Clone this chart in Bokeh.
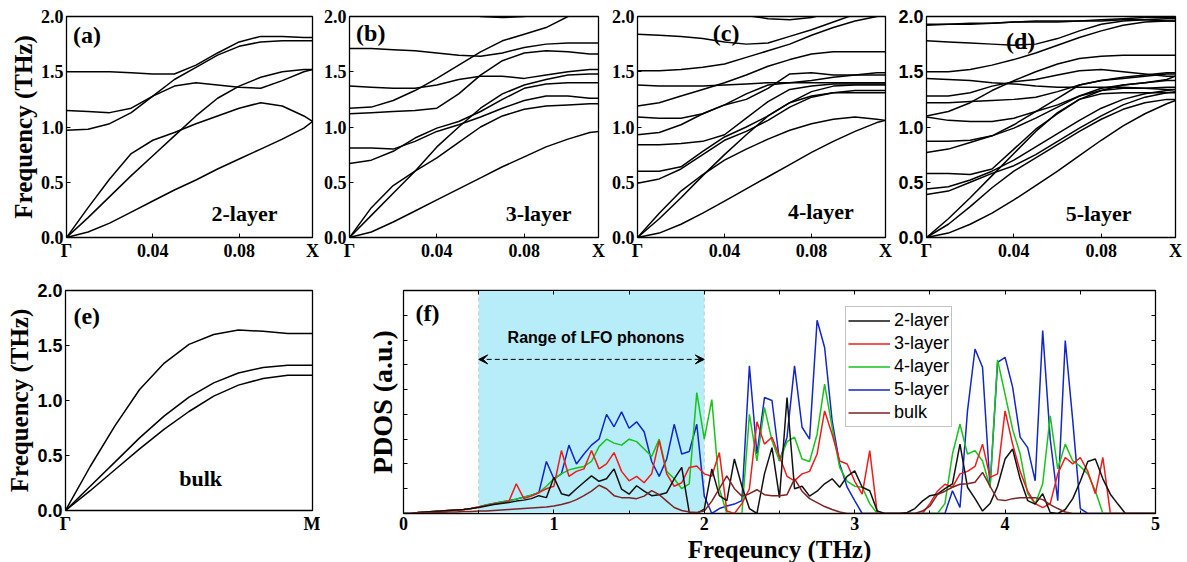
from bokeh.plotting import figure
from bokeh.layouts import row, column
from bokeh.models import (FixedTicker, LinearAxis, BoxAnnotation, Span, Arrow, VeeHead,
                          Legend, LegendItem, Range1d, NumeralTickFormatter)
from bokeh.core.properties import value
from bokeh.embed import file_html
from bokeh.resources import INLINE

SERIF = "Liberation Serif"
SANS = "Liberation Sans"

# ---------------- dispersion data (frequency in THz) ----------------
K = [0.0, 0.01, 0.02, 0.03, 0.04, 0.05, 0.06, 0.07, 0.08, 0.09, 0.10, 0.11, 0.114]
K_TICKS = [0.0, 0.04, 0.08, 0.114]
K_TICK_LABELS = ["Γ", "0.04", "0.08", "X"]
F_TICKS = [0.0, 0.5, 1.0, 1.5, 2.0]

BANDS_2L = [
    [0, 0.05, 0.13, 0.23, 0.33, 0.43, 0.52, 0.62, 0.71, 0.80, 0.89, 0.99, 1.05],
    [0, 0.27, 0.53, 0.76, 0.88, 0.95, 1.03, 1.10, 1.17, 1.22, 1.19, 1.10, 1.05],
    [0, 0.18, 0.37, 0.56, 0.74, 0.92, 1.10, 1.26, 1.37, 1.45, 1.50, 1.52, 1.52],
    [0.97, 0.98, 1.03, 1.13, 1.28, 1.43, 1.54, 1.65, 1.73, 1.77, 1.78, 1.78, 1.78],
    [1.15, 1.14, 1.13, 1.17, 1.28, 1.37, 1.40, 1.38, 1.36, 1.35, 1.42, 1.50, 1.52],
    [1.50, 1.50, 1.50, 1.49, 1.48, 1.48, 1.56, 1.67, 1.77, 1.82, 1.82, 1.81, 1.81],
]
BANDS_3L = [
    [0, 0.05, 0.14, 0.24, 0.34, 0.44, 0.54, 0.64, 0.73, 0.82, 0.89, 0.95, 0.96],
    [0, 0.27, 0.47, 0.60, 0.72, 0.86, 1.00, 1.10, 1.16, 1.19, 1.20, 1.21, 1.21],
    [0, 0.20, 0.40, 0.60, 0.82, 1.00, 1.17, 1.30, 1.38, 1.43, 1.47, 1.48, 1.48],
    [0.67, 0.70, 0.78, 0.90, 0.99, 1.05, 1.14, 1.25, 1.35, 1.39, 1.40, 1.40, 1.40],
    [0.81, 0.81, 0.80, 0.87, 0.96, 1.02, 1.09, 1.17, 1.24, 1.28, 1.28, 1.26, 1.26],
    [1.12, 1.13, 1.14, 1.15, 1.17, 1.30, 1.47, 1.60, 1.67, 1.69, 1.68, 1.66, 1.66],
    [1.17, 1.18, 1.24, 1.33, 1.44, 1.56, 1.68, 1.78, 1.84, 1.90, 2.00, 2.10, 2.12],
    [1.37, 1.36, 1.35, 1.35, 1.38, 1.43, 1.46, 1.46, 1.44, 1.47, 1.50, 1.52, 1.52],
    [1.71, 1.71, 1.70, 1.69, 1.67, 1.65, 1.64, 1.67, 1.72, 1.75, 1.76, 1.76, 1.76],
    [2.40, 2.30, 2.22, 2.15, 2.09, 2.04, 2.00, 1.99, 2.00, 2.04, 2.10, 2.15, 2.17],
]
BANDS_4L = [
    [0, 0.04, 0.12, 0.22, 0.33, 0.44, 0.55, 0.66, 0.77, 0.87, 0.96, 1.04, 1.06],
    [0, 0.22, 0.42, 0.57, 0.70, 0.80, 0.89, 0.97, 1.03, 1.07, 1.09, 1.07, 1.06],
    [0, 0.17, 0.36, 0.56, 0.75, 0.93, 1.10, 1.22, 1.28, 1.31, 1.31, 1.31, 1.31],
    [0.49, 0.53, 0.62, 0.75, 0.88, 0.96, 1.06, 1.18, 1.27, 1.31, 1.33, 1.33, 1.33],
    [0.60, 0.60, 0.64, 0.78, 0.91, 1.00, 1.10, 1.22, 1.32, 1.37, 1.38, 1.38, 1.38],
    [0.84, 0.84, 0.85, 0.87, 0.93, 1.08, 1.23, 1.34, 1.37, 1.39, 1.39, 1.39, 1.39],
    [0.93, 0.95, 1.02, 1.12, 1.20, 1.25, 1.35, 1.48, 1.49, 1.47, 1.47, 1.47, 1.47],
    [1.09, 1.08, 1.08, 1.12, 1.20, 1.30, 1.38, 1.40, 1.42, 1.45, 1.47, 1.49, 1.49],
    [1.19, 1.22, 1.28, 1.34, 1.40, 1.47, 1.55, 1.61, 1.66, 1.68, 1.68, 1.68, 1.68],
    [1.38, 1.37, 1.37, 1.37, 1.38, 1.39, 1.40, 1.40, 1.40, 1.40, 1.40, 1.40, 1.40],
    [1.51, 1.51, 1.52, 1.54, 1.57, 1.63, 1.69, 1.75, 1.83, 1.90, 1.96, 2.00, 2.02],
    [1.84, 1.83, 1.82, 1.80, 1.77, 1.75, 1.76, 1.82, 1.88, 1.95, 2.02, 2.08, 2.10],
    [2.40, 2.30, 2.20, 2.12, 2.06, 2.01, 1.98, 1.97, 1.99, 2.04, 2.10, 2.15, 2.17],
]
BANDS_5L = [
    [0, 0.04, 0.12, 0.22, 0.34, 0.47, 0.60, 0.74, 0.88, 1.01, 1.12, 1.21, 1.24],
    [0, 0.12, 0.28, 0.45, 0.60, 0.72, 0.84, 0.96, 1.07, 1.16, 1.22, 1.25, 1.25],
    [0, 0.17, 0.36, 0.56, 0.76, 0.96, 1.13, 1.25, 1.30, 1.31, 1.31, 1.31, 1.31],
    [0.39, 0.42, 0.50, 0.58, 0.65, 0.75, 0.87, 0.99, 1.10, 1.20, 1.27, 1.31, 1.32],
    [0.44, 0.46, 0.52, 0.60, 0.70, 0.82, 0.94, 1.06, 1.17, 1.25, 1.30, 1.33, 1.34],
    [0.58, 0.58, 0.57, 0.62, 0.80, 0.98, 1.12, 1.25, 1.33, 1.38, 1.40, 1.42, 1.42],
    [0.77, 0.80, 0.86, 0.92, 0.99, 1.08, 1.18, 1.28, 1.35, 1.38, 1.40, 1.43, 1.46],
    [0.87, 0.87, 0.88, 0.92, 1.02, 1.14, 1.26, 1.38, 1.42, 1.44, 1.46, 1.48, 1.48],
    [1.09, 1.06, 1.05, 1.05, 1.08, 1.14, 1.20, 1.28, 1.33, 1.35, 1.35, 1.36, 1.36],
    [1.10, 1.14, 1.22, 1.33, 1.42, 1.50, 1.57, 1.62, 1.64, 1.65, 1.65, 1.65, 1.65],
    [1.22, 1.22, 1.23, 1.24, 1.25, 1.27, 1.32, 1.38, 1.42, 1.45, 1.47, 1.49, 1.49],
    [1.28, 1.28, 1.31, 1.37, 1.41, 1.43, 1.47, 1.51, 1.52, 1.50, 1.48, 1.46, 1.46],
    [1.44, 1.43, 1.42, 1.40, 1.39, 1.37, 1.36, 1.36, 1.36, 1.36, 1.35, 1.34, 1.34],
    [1.50, 1.50, 1.52, 1.56, 1.61, 1.67, 1.74, 1.81, 1.87, 1.92, 1.95, 1.96, 1.96],
    [1.78, 1.77, 1.76, 1.75, 1.74, 1.75, 1.80, 1.87, 1.93, 1.96, 1.97, 1.98, 1.98],
    [1.92, 1.93, 1.93, 1.94, 1.95, 1.95, 1.95, 1.96, 1.97, 1.98, 1.99, 1.99, 1.99],
    [1.93, 1.93, 1.94, 1.94, 1.95, 1.96, 1.96, 1.96, 1.96, 1.97, 1.97, 1.96, 1.96],
]

Q_BULK = [0.0, 0.1, 0.2, 0.3, 0.4, 0.5, 0.6, 0.7, 0.8, 0.9, 1.0]
Q_TICKS = [0.0, 1.0]
Q_TICK_LABELS = ["Γ", "M"]
BANDS_BULK = [
    [0, 0.40, 0.77, 1.10, 1.34, 1.51, 1.60, 1.64, 1.63, 1.61, 1.61],
    [0, 0.22, 0.44, 0.66, 0.86, 1.03, 1.16, 1.25, 1.30, 1.32, 1.32],
    [0, 0.18, 0.37, 0.56, 0.74, 0.90, 1.04, 1.14, 1.20, 1.23, 1.23],
]

# ---------------- PDOS data (a.u.), frequency grid 0..5 THz step 0.05 ----------------
PDOS_FREQ = [round(i * 0.05, 2) for i in range(101)]
PDOS_2L = [0, 0, 0.02, 0.03, 0.04, 0.05, 0.06, 0.07, 0.08, 0.10,
           0.12, 0.15, 0.18, 0.20, 0.22, 0.25, 0.27, 0.30, 0.36, 0.32,
           0.73, 0.40, 0.36, 0.50, 0.63, 0.76, 0.65, 0.70, 0.90, 0.49,
           0.39, 0.56, 0.45, 0.36, 0.38, 0.42, 0.70, 0.93, 0.02, 0.00,
           0.09, 0.90, 0.36, 0.26, 1.10, 0.55, 0.10, 0.00, 0.80, 1.33,
           0.32, 2.34, 0.50, 0.55, 0.35, 0.45, 0.60, 0.70, 0.53, 0.75,
           0.86, 0.53, 0.46, 0.05, 0, 0, 0, 0.02, 0.10, 0.25,
           0.36, 0.39, 0.50, 0.60, 1.40, 0.53, 0.30, 0.05, 0.20, 0.55,
           1.10, 1.30, 0.70, 0.26, 0.19, 0.40, 0.02, 0, 0.08, 0.30,
           0.65, 1.05, 1.10, 0.70, 0.39, 0.19, 0, 0, 0, 0, 0]
PDOS_3L = [0, 0, 0.02, 0.03, 0.04, 0.05, 0.06, 0.07, 0.08, 0.10,
           0.13, 0.16, 0.19, 0.21, 0.24, 0.60, 0.30, 0.35, 0.42, 0.50,
           0.55, 1.27, 0.75, 0.85, 0.90, 1.27, 0.90, 1.00, 1.23, 0.85,
           0.66, 0.75, 0.62, 0.80, 1.47, 0.80, 0.55, 0.62, 0.93, 0.96,
           0.80, 0.75, 1.23, 0.05, 0.00, 0.20, 0.50, 1.85, 1.40, 1.54,
           1.15, 0.75, 0.66, 0.80, 0.85, 1.20, 2.07, 1.60, 1.06, 1.00,
           0.65, 0.39, 1.27, 0, 0, 0, 0, 0, 0, 0,
           0.20, 0.45, 0.59, 0.53, 0.80, 0.85, 0.95, 1.40, 0.73, 0.80,
           2.07, 1.40, 0.85, 0.45, 0.20, 0.12, 0.20, 0.80, 1.13, 1.00,
           1.13, 0.85, 0.40, 1.13, 0, 0, 0, 0, 0, 0, 0]
PDOS_4L = [0, 0, 0.02, 0.03, 0.04, 0.05, 0.06, 0.07, 0.08, 0.10,
           0.13, 0.17, 0.20, 0.23, 0.26, 0.29, 0.33, 0.37, 0.42, 0.55,
           0.70, 0.80, 0.88, 0.92, 0.95, 1.05, 1.35, 1.50, 1.42, 1.38,
           1.50, 1.45, 1.30, 1.15, 1.50, 0.85, 0.70, 0.50, 0.60, 2.44,
           1.50, 2.30, 0.50, 0, 0, 0, 2.00, 1.06, 2.14, 1.47,
           1.06, 1.45, 1.54, 1.10, 1.05, 1.60, 2.61, 1.74, 0.93, 0.65,
           0.55, 0.53, 0.20, 0, 0, 0, 0, 0, 0, 0,
           0, 0, 0.20, 1.20, 1.80, 1.20, 1.27, 1.06, 0.53, 3.10,
           2.40, 1.70, 1.20, 0.40, 0.19, 0.60, 1.97, 0.90, 1.40, 1.06,
           0.95, 0.80, 0.46, 0, 0, 0, 0, 0, 0, 0, 0]
PDOS_5L = [0, 0, 0.02, 0.03, 0.04, 0.05, 0.06, 0.07, 0.08, 0.10,
           0.13, 0.17, 0.20, 0.23, 0.26, 0.29, 0.33, 0.37, 0.42, 1.05,
           0.70, 0.80, 1.38, 1.00, 1.20, 1.38, 1.50, 2.00, 1.75, 2.05,
           1.72, 1.85, 1.65, 1.05, 0.75, 1.10, 1.80, 1.20, 1.25, 1.80,
           0.35, 0, 0.10, 0.15, 0.19, 0.26, 2.98, 1.20, 2.34, 2.28,
           1.06, 1.54, 2.98, 1.74, 1.50, 3.90, 3.35, 1.87, 1.00, 0.53,
           0.26, 0, 0, 0, 0, 0, 0, 0, 0, 0,
           0, 0, 0, 0.46, 0.12, 2.07, 3.32, 2.95, 0.53, 3.05,
           3.15, 2.55, 1.54, 1.33, 0.66, 3.69, 1.50, 0.26, 3.49, 1.87,
           0.10, 0, 0, 0, 0, 0, 0, 0, 0, 0, 0]
PDOS_BULK = [0, 0, 0.01, 0.01, 0.02, 0.02, 0.03, 0.03, 0.04, 0.04,
             0.05, 0.05, 0.06, 0.07, 0.08, 0.09, 0.10, 0.11, 0.12, 0.13,
             0.15, 0.18, 0.22, 0.28, 0.36, 0.45, 0.57, 0.50, 0.36, 0.32,
             0.32, 0.30, 0.35, 0.46, 0.38, 0.25, 0.12, 0.06, 0.03, 0.02,
             0.05, 0.25, 0.50, 0.76, 0.50, 0.35, 0.40, 0.48, 0.38, 0.36,
             0.36, 0.38, 0.70, 0.45, 0.30, 0.22, 0.14, 0.08, 0.03, 0,
             0, 0, 0, 0, 0, 0, 0, 0, 0, 0.05,
             0.15, 0.38, 0.45, 0.53, 0.59, 0.60, 0.63, 0.83, 0.55, 0.28,
             0.26, 0.30, 0.32, 0.32, 0.32, 0.28, 0.18, 0.10, 0.03, 0,
             0, 0, 0, 0, 0, 0, 0, 0, 0, 0, 0]
PDOS_LABELS = ["2-layer", "3-layer", "4-layer", "5-layer", "bulk"]
PDOS_COLORS = ["#111111", "#ee1c1c", "#19c319", "#1326c8", "#7b2323"]
PDOS_X_TICKS = [0, 1, 2, 3, 4, 5]
PDOS_X_MINOR = [0.5, 1.5, 2.5, 3.5, 4.5]
PDOS_Y_MARKS = [0.5, 1, 1.5, 2, 2.5, 3, 3.5, 4]
LFO_RANGE = [0.5, 2.0]


def base_style(p):
    p.xgrid.visible = False
    p.ygrid.visible = False
    p.outline_line_color = "black"
    p.outline_line_width = 1.3
    p.background_fill_color = "white"
    p.border_fill_color = "white"


def axis_style(ax, font, size="18px"):
    ax.major_label_text_font = font
    ax.major_label_text_font_style = "bold"
    ax.major_label_text_font_size = size
    ax.major_label_text_color = "black"
    ax.major_tick_in = 4
    ax.major_tick_out = 0
    ax.minor_tick_line_color = None
    ax.axis_line_color = "black"
    ax.major_label_standoff = 3
    ax.axis_label_text_color = "black"


def disp_panel(bands, xs, xticks, xlabels, bl, fw, br, yfont, bt=16, fh=221, bb=25, ylabel=None):
    p = figure(frame_width=fw, frame_height=fh, min_border_left=bl, min_border_right=br,
               min_border_top=bt, min_border_bottom=bb,
               x_range=Range1d(xs[0], xs[-1]), y_range=Range1d(0, 2),
               output_backend="svg", toolbar_location=None)
    base_style(p)
    for b in bands:
        p.line(xs, b, line_color="black", line_width=1.5)
    xa = p.xaxis[0]
    xa.ticker = FixedTicker(ticks=xticks)
    xa.major_label_overrides = {t: l for t, l in zip(xticks, xlabels)}
    axis_style(xa, SERIF)
    ya = p.yaxis[0]
    ya.ticker = FixedTicker(ticks=F_TICKS)
    ya.formatter = NumeralTickFormatter(format="0.0")
    axis_style(ya, yfont)
    if ylabel:
        ya.axis_label = ylabel
        ya.axis_label_text_font = SERIF
        ya.axis_label_text_font_style = "bold"
        ya.axis_label_text_font_size = "25px"
        ya.axis_label_standoff = 1
    return p


def add_text(p, x, y, txt, size, align="left", font=SERIF):
    p.text(x=[x], y=[y], text=[txt], text_font=value(font), text_font_style="bold",
           text_font_size=size, text_align=align, text_baseline="middle", text_color="black")


pa = disp_panel(BANDS_2L, K, K_TICKS, K_TICK_LABELS, 66, 246, 8, SERIF, ylabel="Frequency (THz)")
add_text(pa, 0.003, 1.83, "(a)", "24px")
add_text(pa, 0.0825, 0.22, "2-layer", "22px", "center")

pb = disp_panel(BANDS_3L, K, K_TICKS, K_TICK_LABELS, 29, 249, 8, SERIF)
add_text(pb, 0.003, 1.855, "(b)", "24px")
add_text(pb, 0.0866, 0.22, "3-layer", "22px", "center")

pc = disp_panel(BANDS_4L, K, K_TICKS, K_TICK_LABELS, 31, 248, 8, SERIF)
add_text(pc, 0.0346, 1.85, "(c)", "24px")
add_text(pc, 0.0843, 0.235, "4-layer", "22px", "center")

pd = disp_panel(BANDS_5L, K, K_TICKS, K_TICK_LABELS, 33, 249, 12, SANS)
add_text(pd, 0.0364, 1.78, "(d)", "24px")
add_text(pd, 0.0788, 0.22, "5-layer", "22px", "center")

pe = disp_panel(BANDS_BULK, Q_BULK, Q_TICKS, Q_TICK_LABELS, 65, 247, 8, SANS,
                bt=27, fh=220, bb=53, ylabel="Frequency (THz)")
add_text(pe, 0.032, 1.77, "(e)", "24px")
add_text(pe, 0.547, 0.29, "bulk", "22px", "center")

# ---------------- PDOS panel ----------------
pf = figure(frame_width=752, frame_height=223, min_border_left=83, min_border_right=32,
            min_border_top=26, min_border_bottom=51,
            x_range=Range1d(0, 5), y_range=Range1d(0, 4.5),
            output_backend="svg", toolbar_location=None)
base_style(pf)
pf.outline_line_color = "#222222"
pf.add_layout(BoxAnnotation(left=LFO_RANGE[0], right=LFO_RANGE[1], fill_color="#b6edf8",
                            fill_alpha=1.0, line_color=None, level="underlay"))
for loc in LFO_RANGE:
    pf.add_layout(Span(location=loc, dimension="height", line_color="#c9c9c9",
                       line_dash="4 3", line_width=1, level="underlay"))

series = [PDOS_2L, PDOS_3L, PDOS_4L, PDOS_5L, PDOS_BULK]
renderers = [None] * 5
for idx in [3, 2, 1, 0, 4]:
    renderers[idx] = pf.line(PDOS_FREQ, series[idx], line_color=PDOS_COLORS[idx], line_width=1.5)

pf.add_layout(Arrow(start=VeeHead(size=9, fill_color="black", line_color="black"),
                    end=VeeHead(size=9, fill_color="black", line_color="black"),
                    x_start=LFO_RANGE[0], y_start=3.11, x_end=LFO_RANGE[1], y_end=3.11,
                    line_dash="5 3", line_width=1, line_color="black"))
add_text(pf, 1.28, 3.56, "Range of LFO phonons", "16px", "center", SANS)
add_text(pf, 0.08, 4.04, "(f)", "24px")

xa = pf.xaxis[0]
xa.ticker = FixedTicker(ticks=PDOS_X_TICKS, minor_ticks=PDOS_X_MINOR)
axis_style(xa, SERIF)
xa.minor_tick_line_color = "black"
xa.minor_tick_in = 3
xa.minor_tick_out = 0
xa.axis_label = "Freqeuncy (THz)"
xa.axis_label_text_font = SERIF
xa.axis_label_text_font_style = "bold"
xa.axis_label_text_font_size = "25px"
xa.axis_label_standoff = 3

# y axis: tick marks only (as minor ticks, so no labels are drawn)
ya = pf.yaxis[0]
ya.ticker = FixedTicker(ticks=[], minor_ticks=PDOS_Y_MARKS)
axis_style(ya, SERIF)
ya.major_label_standoff = 0
ya.minor_tick_line_color = "black"
ya.minor_tick_in = 4
ya.minor_tick_out = 0
ya.axis_label = "PDOS (a.u.)"
ya.axis_label_text_font = SERIF
ya.axis_label_text_font_style = "bold"
ya.axis_label_text_font_size = "28px"
ya.axis_label_standoff = 6

top = LinearAxis(ticker=FixedTicker(ticks=[], minor_ticks=PDOS_X_TICKS + PDOS_X_MINOR))
right = LinearAxis(ticker=FixedTicker(ticks=[], minor_ticks=PDOS_Y_MARKS))
for ax in (top, right):
    ax.major_label_standoff = 0
    ax.major_tick_line_color = None
    ax.minor_tick_line_color = "black"
    ax.minor_tick_in = 4
    ax.minor_tick_out = 0
    ax.axis_line_color = "black"
pf.add_layout(top, "above")
pf.add_layout(right, "right")

legend = Legend(items=[LegendItem(label=PDOS_LABELS[i], renderers=[renderers[i]]) for i in range(5)],
                location=(442, 86))
legend.label_text_font = SANS
legend.label_text_font_size = "18px"
legend.label_text_color = "black"
legend.glyph_width = 42
legend.glyph_height = 23
legend.label_height = 23
legend.spacing = 0
legend.padding = 2
legend.margin = 0
legend.label_standoff = 4
legend.border_line_color = "#888888"
legend.border_line_width = 1
legend.background_fill_color = "white"
legend.background_fill_alpha = 1.0
pf.add_layout(legend)

layout = column(row(pa, pb, pc, pd, spacing=0), row(pe, pf, spacing=0), spacing=0)

open("out.html", "w").write(file_html(layout, INLINE))
